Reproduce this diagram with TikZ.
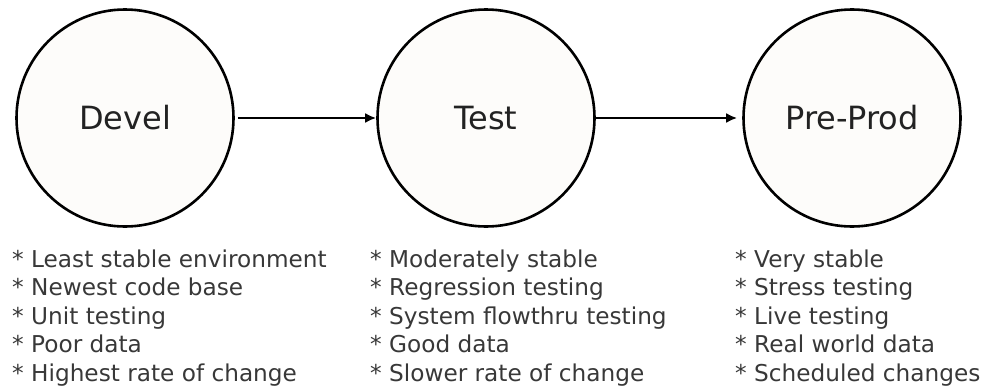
\documentclass[tikz,border=0pt]{standalone}
\usepackage{fontspec}
\setmainfont{DejaVu Sans}
\usetikzlibrary{arrows.meta}
\definecolor{stagefill}{RGB}{253,252,250}
\definecolor{inktext}{RGB}{34,34,34}
\tikzset{
  stage/.style={circle, draw=black, line width=2.6pt, fill=stagefill, minimum size=217pt,
    inner sep=0pt, font=\fontsize{32}{38}\selectfont, text=inktext},
  flow/.style={line width=2.4pt, -{Latex[length=11pt,width=10pt]}},
  notes/.style={anchor=base west, align=left, inner sep=0pt,
    font=\fontsize{23.2}{28.5}\selectfont, text=inktext!90}
}
\begin{document}
\begin{tikzpicture}[x=1pt,y=-1pt]
  \useasboundingbox (0,0) rectangle (990,388);
  % Environments
  \node[stage] (devel) at (125,118) {Devel};
  \node[stage] (test) at (486,118) {Test};
  \node[stage] (preprod) at (852,118) {Pre-Prod};
  % Promotion path
  \draw[flow, shorten <=3pt] (devel) -- (test);
  \draw[flow, shorten >=5pt] (test) -- (preprod);
  % What each environment is like (anchored on the last line)
  \node[notes] (develnotes) at (12,381) {* Least stable environment\\
    * Newest code base\\ * Unit testing\\ * Poor data\\ * Highest rate of change};
  \node[notes] (testnotes) at (370,381) {* Moderately stable\\
    * Regression testing\\ * System flowthru testing\\ * Good data\\ * Slower rate of change};
  \node[notes] (preprodnotes) at (735,381) {* Very stable\\
    * Stress testing\\ * Live testing\\ * Real world data\\ * Scheduled changes};
\end{tikzpicture}
\end{document}
